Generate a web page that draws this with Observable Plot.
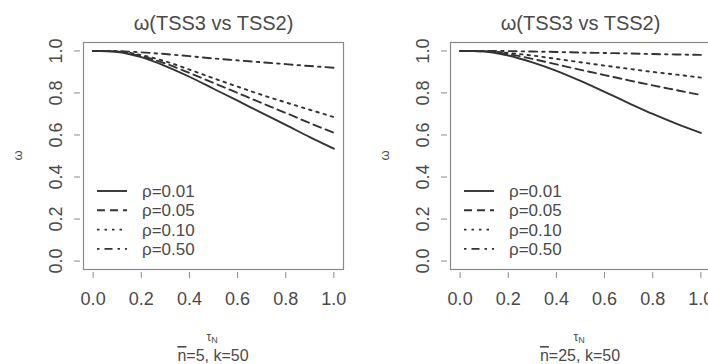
<!DOCTYPE html>
<html><head><meta charset="utf-8">
<script src="https://cdn.jsdelivr.net/npm/d3@7"></script>
<script src="https://cdn.jsdelivr.net/npm/@observablehq/plot@0.6"></script>
<style>
body{margin:0;background:#fff;}
#wrap{position:relative;width:708px;height:364px;overflow:hidden;background:#fff;font-family:"Liberation Sans",Arial,sans-serif;}
.panel{position:absolute;top:0;}
</style></head><body><div id="wrap"></div>
<script>
// ---- data ----
const tau = [0, 0.1, 0.2, 0.3, 0.4, 0.5, 0.6, 0.7, 0.8, 0.9, 1.0];
const rhoLabels = ["ρ=0.01", "ρ=0.05", "ρ=0.10", "ρ=0.50"];
const panelTitles = ["ω(TSS3 vs TSS2)", "ω(TSS3 vs TSS2)"];
const panelNbar = ["5", "25"];
const panelK = ["50", "50"];
const xTicks = [0, 0.2, 0.4, 0.6, 0.8, 1.0];
const yTicks = [0, 0.2, 0.4, 0.6, 0.8, 1.0];

// panel 1: n̄=5, k=50
const omegaN5_rho001 = [1.000, 0.995, 0.970, 0.928, 0.877, 0.820, 0.763, 0.705, 0.648, 0.590, 0.535];
const omegaN5_rho005 = [1.000, 0.997, 0.975, 0.940, 0.895, 0.848, 0.800, 0.752, 0.705, 0.657, 0.610];
const omegaN5_rho010 = [1.000, 0.998, 0.980, 0.950, 0.911, 0.870, 0.830, 0.791, 0.755, 0.720, 0.685];
const omegaN5_rho050 = [1.000, 0.999, 0.993, 0.985, 0.975, 0.964, 0.955, 0.946, 0.937, 0.928, 0.920];
// panel 2: n̄=25, k=50
const omegaN25_rho001 = [1.000, 0.997, 0.978, 0.945, 0.905, 0.857, 0.805, 0.752, 0.700, 0.653, 0.610];
const omegaN25_rho005 = [1.000, 0.998, 0.985, 0.962, 0.936, 0.910, 0.885, 0.860, 0.836, 0.813, 0.790];
const omegaN25_rho010 = [1.000, 0.999, 0.990, 0.978, 0.962, 0.946, 0.930, 0.915, 0.900, 0.887, 0.873];
const omegaN25_rho050 = [1.000, 1.000, 0.999, 0.997, 0.995, 0.992, 0.990, 0.988, 0.985, 0.983, 0.981];

const panelSeries = [
  [omegaN5_rho001, omegaN5_rho005, omegaN5_rho010, omegaN5_rho050],
  [omegaN25_rho001, omegaN25_rho005, omegaN25_rho010, omegaN25_rho050]
];

// ---- styles ----
const dashes = [null, "8,5", "2.5,5", "2.5,5,8,5"];
const lineColor = "#333";
const textColor = "#4a4a4a";
const boxColor = "#8a8a8a";
const FONT = '"Liberation Sans", Arial, sans-serif';

function legendMark(labels) {
  return (index, scales, values, dims) => {
    const g = d3.create("svg:g");
    const x0 = dims.marginLeft, yb = dims.height - dims.marginBottom;
    labels.forEach((lab, i) => {
      const y = yb - 78 + i * 19.3;
      const ln = g.append("line").attr("x1", x0 + 14).attr("x2", x0 + 44)
        .attr("y1", y).attr("y2", y).attr("stroke", lineColor).attr("stroke-width", 1.9);
      if (dashes[i]) ln.attr("stroke-dasharray", dashes[i]);
      g.append("text").attr("x", x0 + 59).attr("y", y).attr("dy", "0.36em").attr("text-anchor", "start")
        .attr("font-size", 17).attr("fill", textColor).attr("font-family", FONT).text(lab);
    });
    return g.node();
  };
}

function labelsMark(p) {
  return (index, scales, values, dims) => {
    const g = d3.create("svg:g").attr("font-family", FONT).attr("fill", textColor);
    const cx = (dims.marginLeft + dims.width - dims.marginRight) / 2;
    const cy = (dims.marginTop + dims.height - dims.marginBottom) / 2;
    // x label tau_N
    const t = g.append("text").attr("x", cx - 1).attr("y", 341).attr("text-anchor", "middle").attr("font-size", 12);
    t.append("tspan").text("τ");
    t.append("tspan").attr("font-size", 9).attr("dy", 2).text("N");
    // caption n̄=.., k=..
    const c = g.append("text").attr("x", cx).attr("y", 361).attr("text-anchor", "middle").attr("font-size", 16);
    c.append("tspan").attr("text-decoration", "overline").text("n");
    c.append("tspan").text("=" + panelNbar[p] + ", k=" + panelK[p]);
    // y label omega
    g.append("text").attr("transform", `translate(22,${cy}) rotate(-90)`).attr("text-anchor", "middle")
      .attr("font-size", 13).text("ω");
    return g.node();
  };
}

const wrap = document.getElementById("wrap");
[0, 1].forEach(p => {
  const rows = [];
  panelSeries[p].forEach((ser, s) => ser.forEach((v, i) => rows.push({tau: tau[i], omega: v, s})));
  const marks = [
    Plot.frame({stroke: boxColor, strokeWidth: 1.2}),
    Plot.axisX({ticks: xTicks, tickSize: 6, dy: 3, tickPadding: 14, tickFormat: d3.format(".1f"),
      fontSize: 18, fill: textColor, stroke: boxColor, label: null}),
    Plot.axisY({ticks: yTicks, tickSize: 6, dx: -3, tickPadding: 13, tickRotate: -90, tickFormat: d3.format(".1f"),
      fontSize: 18, fill: textColor, stroke: boxColor, label: null}),
    ...[0, 1, 2, 3].map(s => Plot.line(rows.filter(r => r.s === s), {
      x: "tau", y: "omega", stroke: lineColor, strokeWidth: 1.9, curve: "monotone-x",
      strokeDasharray: dashes[s] || undefined
    })),
    Plot.text([panelTitles[p]], {frameAnchor: "top", dy: -27, fontSize: 20, fill: textColor, fontFamily: FONT}),
    legendMark(rhoLabels),
    labelsMark(p)
  ];
  const chart = Plot.plot({
    width: 367, height: 364,
    marginLeft: 83, marginRight: 24, marginTop: 42, marginBottom: 95,
    x: {domain: [-0.04, 1.04]},
    y: {domain: [-0.04, 1.04]},
    style: {fontFamily: FONT, background: "transparent", overflow: "visible"},
    marks
  });
  chart.classList.add("panel");
  chart.style.left = (p * 367) + "px";
  wrap.appendChild(chart);
});
</script></body></html>
